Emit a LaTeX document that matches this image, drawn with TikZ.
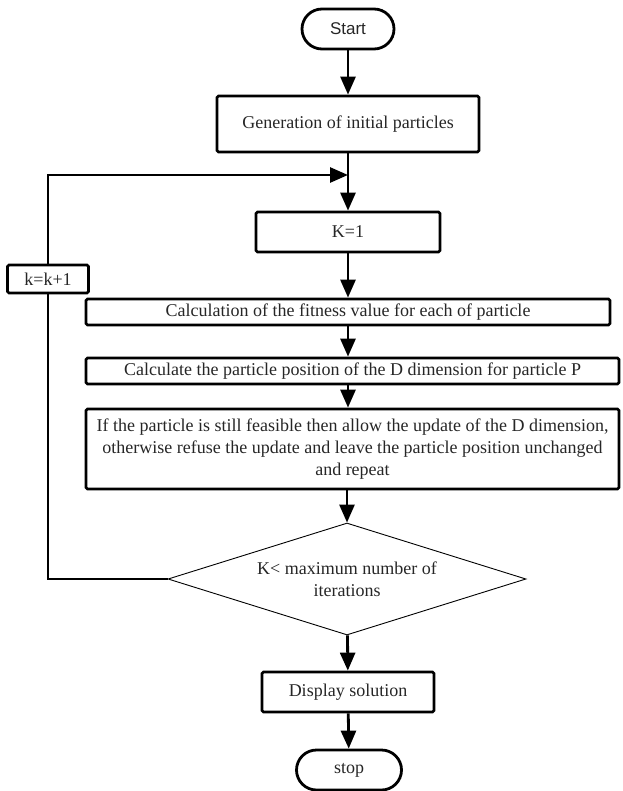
\documentclass[tikz,border=0pt]{standalone}
\usepackage{fontspec}
\setmainfont{Liberation Serif}
\setsansfont{Liberation Sans}
\usetikzlibrary{arrows.meta,shapes.geometric}

\begin{document}
\begin{tikzpicture}[x=1pt,y=-1pt,>={Triangle[length=18pt,width=15pt]},font=\fontsize{18}{22}\selectfont,text=black!85]
\tikzset{box/.style={draw,line width=2.8pt,rounded corners=1.5pt,inner sep=0pt,align=center},
  term/.style={draw,line width=2.8pt,rounded corners=20pt,inner sep=0pt,minimum height=40pt},
  test/.style={draw,diamond,line width=0.9pt,inner sep=0pt,aspect=3.2,align=center},
  flow/.style={line width=2.8pt}}
\useasboundingbox (0,0) rectangle (622,791);
\node[term,minimum width=92pt,font=\sffamily\fontsize{17}{20}\selectfont] (start) at (348,29) {Start};
\node[box,minimum width=262pt,minimum height=56pt] (gen) at (348,124) {Generation of initial particles};
\node[box,minimum width=184pt,minimum height=40pt] (kone) at (348,232) {K=1};
\node[box,minimum width=524pt,minimum height=26pt] (fit) at (348,312) {Calculation of the fitness value for each of particle};
\node[box,minimum width=533pt,minimum height=26pt] (pos) at (352.5,371) {Calculate the particle position of the D dimension for particle P};
\node[box,minimum width=533pt,minimum height=80pt] (upd) at (352.5,449) {If the particle is still feasible then allow the update of the D dimension,\\otherwise refuse the update and leave the particle position unchanged\\and repeat};
\node[test,minimum width=358pt,minimum height=112pt] (cond) at (347,579) {K< maximum number of\\iterations};
\node[box,minimum width=172pt,minimum height=40pt] (disp) at (348,692) {Display solution};
\node[term,minimum width=105pt] (stop) at (349,770) {stop};
\node[box,minimum width=81pt,minimum height=28pt] (kinc) at (48,279) {k=k+1};
\coordinate (join) at (348,175);
% main column
\draw[flow,->] (start) -- (gen);
\draw[flow,->] (gen) -- (kone);
\draw[flow,->] (kone) -- (fit);
\draw[flow,->] (fit) -- (fit |- pos.north);
\draw[flow,->] (fit |- pos.south) -- (fit |- upd.north);
\draw[flow,->] (cond.north |- upd.south) -- (cond);
\draw[flow,->] (cond) -- (disp);
\draw[flow,->] (disp) -- (stop);
% loop back
\draw[flow] (cond.west) -| (kinc.south);
\draw[flow,->] (kinc.north) |- (join);
\end{tikzpicture}
\end{document}
